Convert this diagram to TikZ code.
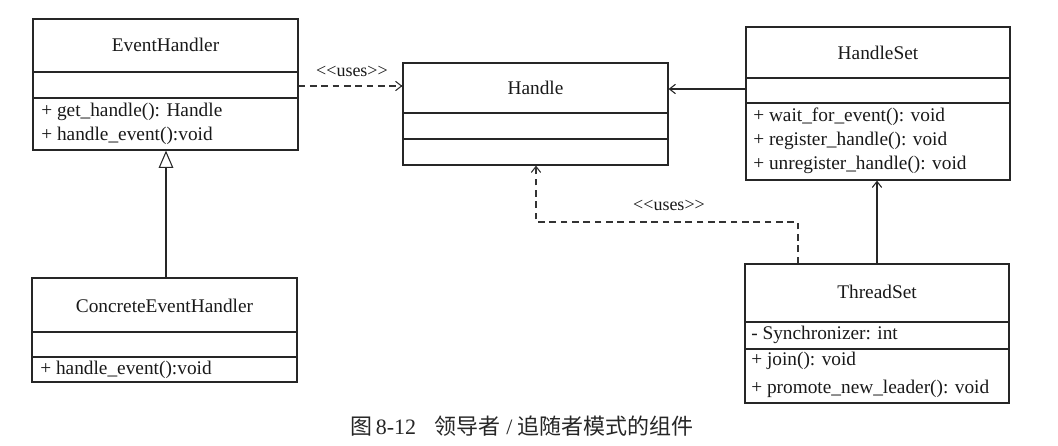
\documentclass[tikz,border=0pt]{standalone}
\usepackage{fontspec}
\setmainfont{Liberation Serif}
\newfontfamily\cjk{Noto Sans CJK SC}
\usetikzlibrary{arrows.meta,fit}
\newcommand{\usesmark}{<\kern0pt<uses>\kern0pt>}
\begin{document}
\begin{tikzpicture}[x=0.75pt,y=-0.75pt,
  cls/.style={draw=black!85, line width=0.9pt, inner sep=0pt, rectangle},
  ttl/.style={font=\fontsize{14.5}{16}\selectfont, inner sep=0pt, text=black!90},
  mem/.style={font=\fontsize{14.5}{16}\selectfont, inner sep=0pt, anchor=west, text=black!90},
  sep/.style={draw=black!85, line width=0.9pt},
  dep/.style={draw=black!80, line width=0.8pt, dash pattern=on 5pt off 3.5pt, -{Straight Barb[length=4.5pt,width=7pt]}},
  assoc/.style={draw=black!85, line width=0.8pt, -{Straight Barb[length=4.5pt,width=7pt]}},
  gen/.style={draw=black!85, line width=0.8pt, -{Triangle[open, length=13pt, width=11pt]}},
  lbl/.style={font=\fontsize{13.5}{15}\selectfont, inner sep=0pt, text=black!90}
]
\useasboundingbox (0,0) rectangle (1058,446);

% EventHandler
\node[cls, fit={(33,19) (298,150)}] (eh) {};
\draw[sep] (eh.west |- 0,72) -- (eh.east |- 0,72);
\draw[sep] (eh.west |- 0,98) -- (eh.east |- 0,98);
\node[ttl] (ehT) at (eh.center |- 0,45) {EventHandler};
\node[mem] (ehM1) at (41,112) {+ get\_handle(): Handle};
\node[mem] (ehM2) at (41,136) {+ handle\_event():void};

% Handle
\node[cls, fit={(403,63) (668,165)}] (hd) {};
\draw[sep] (hd.west |- 0,113) -- (hd.east |- 0,113);
\draw[sep] (hd.west |- 0,139) -- (hd.east |- 0,139);
\node[ttl] (hdT) at (hd.center |- 0,88) {Handle};

% HandleSet
\node[cls, fit={(746,27) (1010,180)}] (hs) {};
\draw[sep] (hs.west |- 0,78) -- (hs.east |- 0,78);
\draw[sep] (hs.west |- 0,103) -- (hs.east |- 0,103);
\node[ttl] (hsT) at (hs.center |- 0,53) {HandleSet};
\node[mem] (hsM1) at (753,117) {+ wait\_for\_event(): void};
\node[mem] (hsM2) at (753,141) {+ register\_handle(): void};
\node[mem] (hsM3) at (753,165) {+ unregister\_handle(): void};

% ConcreteEventHandler
\node[cls, fit={(32,278) (297,382)}] (ceh) {};
\draw[sep] (ceh.west |- 0,332) -- (ceh.east |- 0,332);
\draw[sep] (ceh.west |- 0,357) -- (ceh.east |- 0,357);
\node[ttl] (cehT) at (ceh.center |- 0,306) {ConcreteEventHandler};
\node[mem] (cehM1) at (40,370) {+ handle\_event():void};

% ThreadSet
\node[cls, fit={(745,264) (1009,403)}] (ts) {};
\draw[sep] (ts.west |- 0,322) -- (ts.east |- 0,322);
\draw[sep] (ts.west |- 0,349) -- (ts.east |- 0,349);
\node[ttl] (tsT) at (ts.center |- 0,292) {ThreadSet};
\node[mem] (tsA1) at (751,335) {- Synchronizer: int};
\node[mem] (tsM1) at (751,361) {+ join(): void};
\node[mem] (tsM2) at (751,389) {+ promote\_new\_leader(): void};

% connectors
\draw[dep] (eh.east |- 0,86) -- (hd.west |- 0,86);
\node[lbl] (u1) at (352,71) {\usesmark};
\draw[assoc] (hs.west |- 0,89) -- (hd.east |- 0,89);
\draw[gen] (ceh.north -| 166,0) -- (eh.south -| 166,0);
\draw[assoc] (ts.north -| 877,0) -- (hs.south -| 877,0);
\coordinate (bend) at (536,222);
\draw[dep] (ts.north -| 798,0) |- (bend) -- (hd.south -| bend);
\node[lbl] (u2) at (669,205) {\usesmark};

% caption
\node[inner sep=0pt, font=\fontsize{16.5}{18}\selectfont, text=black!85] (cap) at (522,426)
  {{\cjk 图}\,8-12\hspace{0.85em}{\cjk 领导者} / {\cjk 追随者模式的组件}};
\end{tikzpicture}
\end{document}
